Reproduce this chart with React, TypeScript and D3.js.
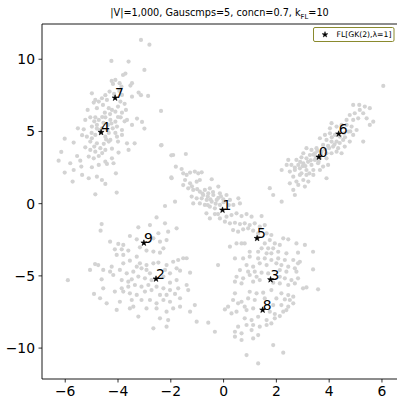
import React from "react";
import * as d3 from "d3";

type P = [number, number];

const clusterTopLeft: P[] = [
[-3.13,11.34],[-2.81,11.01],[-4.25,9.88],[-3.60,9.84],[-3.00,9.26],[-3.72,9.01],[-3.81,8.91],[-4.10,8.57],[-4.24,8.50],[-4.19,8.29],[-3.47,8.34],[-3.53,8.18],[-3.94,8.34],[-3.87,8.11],[-4.99,7.64],[-4.32,7.76],[-4.48,7.51],[-3.22,7.69],[-3.13,7.51],[-2.86,7.46],[-3.85,7.53],[-3.47,7.41],
[-4.86,7.18],[-4.73,7.07],[-4.92,7.00],[-4.61,7.30],[-4.42,7.18],[-3.91,7.07],[-3.75,6.91],[-4.00,6.72],[-3.70,6.49],[-3.85,6.30],
[-5.15,6.49],[-4.80,6.61],[-4.57,6.84],[-4.35,6.61],[-4.23,6.49],[-4.10,6.37],[-2.37,6.42],
[-5.24,5.80],[-5.05,5.98],[-4.86,5.98],[-4.73,5.80],[-4.48,5.98],[-4.29,5.80],[-4.10,5.68],[-3.90,5.98],[-3.66,5.80],[-3.28,5.89],[-3.09,5.66],[-3.47,5.45],
[-5.52,5.22],[-5.30,5.15],[-4.99,5.34],[-4.80,5.45],[-4.61,5.22],[-4.38,5.45],[-4.20,5.22],[-4.04,5.34],[-3.85,5.10],[-3.00,5.20],
[-5.36,4.74],[-5.18,4.64],[-4.99,4.53],[-4.86,4.76],[-4.48,4.64],[-4.29,4.41],[-4.04,4.64],[-3.85,4.76],
[-6.02,4.50],[-5.68,4.23],[-5.05,4.30],[-4.80,4.18],[-4.54,4.14],[-4.35,4.30],[-4.00,4.30],[-3.66,4.18],[-3.37,4.18],[-2.37,4.04],
[-6.15,3.58],[-5.55,3.30],[-5.24,3.90],[-5.05,3.72],[-4.86,3.60],[-4.67,3.84],[-4.48,3.72],[-4.23,3.81],[-3.98,3.54],
[-6.25,2.98],[-5.81,2.80],[-5.43,2.98],[-5.11,3.26],[-4.92,3.14],[-4.73,3.30],[-4.48,2.91],[-4.23,3.14],[-3.60,3.72],
[-6.02,2.15],[-5.68,2.33],[-5.39,2.57],[-4.99,2.52],[-4.73,2.68],[-4.42,2.75],[-4.17,2.80],[-1.98,3.35],[-1.98,1.83],
[-5.72,1.53],[-5.36,1.99],[-5.11,1.76],[-4.80,1.87],[-4.61,1.64],[-4.48,1.37],[-4.08,2.10],[-4.86,0.65],[-4.05,0.77],
[-4.55,5.60],[-4.40,5.10],[-4.70,5.10],[-4.30,6.20],[-4.50,6.30],[-4.90,5.70],[-4.65,4.90],[-4.35,4.90],[-4.00,6.00],[-4.15,7.60],
[-3.95,7.80],[-4.60,6.00],[-4.80,5.20],[-4.25,5.55],[-4.45,4.45],[-4.90,3.95],[-4.60,3.50],[-5.00,4.90],[-4.10,4.90],[-3.75,5.70]
];

const clusterRight: P[] = [
[6.05,8.15],[4.91,6.84],[5.14,6.84],[5.35,6.72],[5.54,6.61],[5.16,6.49],[4.97,6.26],[4.78,6.14],[5.29,6.26],[5.42,5.91],[5.67,5.68],[5.54,5.45],[5.10,5.91],[4.91,5.80],[4.66,5.80],[4.66,5.45],[4.47,5.45],[4.28,5.34],[4.09,5.57],[4.03,5.22],[4.85,5.34],[5.04,5.10],[4.72,4.99],[4.56,4.87],[4.91,4.76],[4.41,4.64],[4.22,4.76],[4.03,4.87],[3.84,4.76],[3.65,4.53],[3.90,4.41],[4.09,4.30],[4.28,4.30],[4.53,4.41],[4.78,4.30],[5.29,4.30],[4.59,3.95],[4.34,3.84],[4.15,3.95],[3.96,4.00],[3.77,4.07],[3.52,3.84],[3.33,3.72],[3.14,3.84],[3.02,3.49],[3.27,3.37],[3.46,3.49],[3.71,3.60],[3.90,3.49],[4.09,3.49],[4.28,3.60],[4.47,3.49],[3.90,3.14],[3.65,3.14],[3.46,3.03],[3.14,3.14],[2.95,3.21],[2.76,3.03],[2.45,3.03],[2.39,2.68],[2.57,2.68],[2.83,2.68],[3.02,2.80],[3.33,2.68],[3.58,2.80],[3.77,2.57],[3.96,2.68],[2.89,2.45],[3.14,2.33],[3.40,2.33],[3.65,2.33],[2.70,2.33],[2.51,2.22],[2.20,2.33],[2.64,1.87],[2.89,1.99],[3.14,1.99],[3.40,1.99],[3.02,1.64],[2.76,1.53],[3.21,1.53],[3.90,1.76],[2.51,1.41],[2.83,1.30],[3.08,1.18],[2.64,0.95],[2.70,0.60],[1.75,1.07],[1.88,0.60],
[3.30,3.00],[3.50,3.20],[3.70,3.40],[3.20,2.90],[3.00,2.60],[3.60,2.90],[3.85,3.75],[4.00,3.85],[4.20,4.10],[4.40,4.20],[4.10,4.60],[3.40,3.40],[2.90,2.90],[3.10,2.60],[2.70,2.50],[4.60,4.60],[4.80,5.00],[3.25,2.10],[2.95,2.10],[3.55,3.65]
];

const clusterCenter: P[] = [
[-2.35,4.06],[-1.91,3.37],[-1.43,3.44],[-1.81,2.56],[-1.59,2.40],[-1.97,1.76],[-1.53,2.10],[-1.40,1.99],[-1.27,2.15],[-1.09,2.22],[-0.96,2.10],[-0.83,2.17],[-1.46,1.64],[-1.27,1.41],[-1.02,1.52],[-0.90,1.64],[-0.45,1.69],[-1.53,1.29],[-1.34,1.06],[-1.15,0.95],[-0.90,0.83],[-0.71,0.95],[-0.52,1.06],[-0.20,1.18],[-0.77,0.60],[-0.58,0.72],[-0.39,0.60],[-0.14,0.72],[0.11,0.60],[-1.21,0.49],[-1.02,0.37],[-0.83,0.37],[-0.64,0.26],[-0.45,0.14],[-0.26,0.26],[-0.01,0.30],[0.24,0.26],[0.56,0.37],[-1.84,0.14],[-1.15,0.02],[-0.90,0.02],[-0.71,-0.09],[-0.52,-0.21],[-0.33,-0.32],[-0.14,-0.09],[0.37,-0.09],[0.62,0.02],[-2.22,-0.16],[-2.54,-0.95],[2.20,0.14],
[-0.60,0.50],[-0.30,0.00],[-0.20,0.40],[-0.80,0.70],[-1.00,1.00],[-0.40,0.80],[0.00,0.10],[-0.60,-0.10],[0.20,-0.10],[-1.20,1.20],[-0.10,0.50],[-0.50,0.30]
];

const clusterBottomLeft: P[] = [
[-4.62,-1.41],[-4.66,-1.87],[-3.23,-1.64],[-2.79,-1.48],[-2.22,-1.36],[-2.47,-2.05],[-2.10,-1.94],[-1.78,-1.71],[-3.55,-2.24],[-3.29,-2.47],[-2.66,-2.40],[-2.41,-2.63],[-2.16,-2.52],[-4.30,-2.63],[-3.99,-2.79],[-3.80,-2.86],[-4.12,-3.16],[-3.86,-3.16],[-3.61,-3.25],[-3.17,-3.02],[-2.92,-3.25],[-2.66,-3.32],[-2.41,-3.39],[-2.28,-3.09],[-4.05,-3.55],[-3.80,-3.55],[-3.29,-3.67],[-4.87,-4.18],[-4.75,-4.25],[-4.24,-4.36],[-3.80,-4.13],[-3.55,-3.95],[-3.17,-4.13],[-2.92,-4.25],[-2.66,-4.13],[-2.47,-4.08],[-2.16,-4.25],[-1.91,-4.02],[-1.72,-3.90],[-1.53,-3.78],[-1.40,-3.78],[-5.06,-4.59],[-4.56,-4.59],[-4.30,-4.71],[-3.93,-4.59],[-3.67,-4.82],[-3.42,-4.71],[-3.29,-4.36],[-3.11,-4.48],[-2.92,-4.59],[-2.79,-4.82],[-2.22,-4.59],[-2.03,-4.82],[-1.78,-4.48],[-1.65,-4.64],[-1.27,-4.78],[-4.62,-5.24],[-4.18,-4.94],[-3.86,-5.29],[-3.61,-5.40],[-3.48,-5.24],[-3.23,-5.05],[-2.98,-5.17],[-2.73,-5.29],[-2.28,-5.05],[-2.03,-5.47],[-1.78,-5.29],[-1.40,-5.63],[-4.91,-6.25],[-4.56,-5.86],[-3.86,-5.86],[-3.61,-5.75],[-3.36,-5.63],[-3.11,-5.75],[-2.85,-5.63],[-2.54,-5.75],[-2.28,-5.86],[-2.03,-5.98],[-1.72,-5.86],[-1.34,-5.98],[-4.68,-6.55],[-4.12,-6.09],[-3.80,-6.09],[-3.55,-6.21],[-3.29,-6.32],[-2.98,-6.09],[-2.73,-5.98],[-2.41,-6.32],[-2.16,-6.32],[-1.84,-6.25],[-1.65,-6.55],[-4.43,-6.90],[-3.93,-6.79],[-3.48,-6.67],[-3.11,-6.67],[-2.79,-6.67],[-2.54,-6.90],[-2.28,-6.67],[-2.03,-6.79],[-1.65,-7.13],[-1.09,-7.02],[-4.05,-7.36],[-3.55,-7.25],[-3.42,-7.13],[-2.92,-7.25],[-2.54,-7.25],[-2.16,-7.48],[-1.91,-7.25],[-2.41,-7.94],[-2.10,-8.06],[-3.23,-7.82],[-1.27,-7.48],[-1.02,-8.17],[-2.16,-8.52],[-2.66,-8.63],[-5.90,-5.30]
];

const clusterBottomRight: P[] = [
[-0.65,-0.67],[-0.33,-0.72],[-0.14,-1.02],[0.11,-0.90],[0.30,-0.79],[0.49,-0.67],[0.68,-0.86],[0.87,-0.72],[1.06,-0.90],[1.44,-0.86],[0.05,-1.25],[0.24,-1.36],[0.43,-1.32],[0.62,-1.41],[0.80,-1.36],[0.99,-1.48],[1.18,-1.36],[1.37,-1.59],[1.56,-1.48],[0.36,-1.83],[0.55,-1.94],[0.74,-1.78],[0.93,-1.71],[1.12,-1.87],[1.31,-2.06],[1.63,-2.06],[1.81,-2.17],[2.26,-2.40],[2.45,-2.47],[-0.21,-0.72],[-0.52,-1.02],
[1.75,-2.52],[1.94,-2.75],[1.56,-2.75],[1.44,-3.09],[1.69,-3.09],[1.88,-3.09],[2.13,-2.86],[2.76,-2.75],[3.08,-2.86],[3.39,-3.33],[0.49,-2.75],[0.68,-2.75],[0.80,-2.75],[0.99,-3.33],[1.31,-3.33],[0.24,-2.98],[1.63,-3.44],[1.81,-3.44],[2.07,-3.33],[2.38,-3.44],[2.82,-3.39],[0.99,-3.67],[0.74,-3.79],[1.31,-3.79],[1.56,-3.79],[1.81,-3.90],[2.07,-3.79],[2.32,-3.90],[2.64,-3.90],[2.89,-4.02],[2.82,-4.13],[0.43,-3.79],[-0.21,-4.25],[0.87,-4.25],[1.12,-4.36],[1.37,-4.13],[1.63,-4.25],[2.00,-4.13],[2.19,-4.25],[2.45,-4.36],[2.70,-4.48],[0.62,-4.60],[0.93,-4.71],[1.18,-4.71],[1.44,-4.78],[1.69,-4.83],[2.13,-4.60],[2.38,-4.71],[2.76,-4.71],[3.39,-4.55],[0.49,-5.06],[0.74,-5.17],[0.99,-4.94],[1.25,-5.06],[2.13,-5.06],[2.32,-5.17],[2.57,-5.29],[2.82,-5.17],[0.43,-5.40],[0.68,-5.52],[1.12,-5.40],[1.37,-5.29],[1.88,-5.47],[2.13,-5.52],[2.45,-5.63],[2.70,-5.52],[3.01,-5.86],[3.14,-5.80],[3.58,-5.93],[0.43,-6.21],[0.99,-6.10],[1.25,-6.21],[1.50,-6.16],[1.81,-5.98],[2.19,-6.21],[2.45,-6.33],[2.64,-6.44],[0.36,-6.67],[0.68,-6.79],[0.93,-6.56],[1.18,-6.67],[1.56,-6.56],[2.00,-6.56],[2.32,-6.63],[2.51,-6.67],[0.17,-7.13],[0.55,-6.90],[0.80,-7.13],[1.12,-7.25],[1.88,-7.02],[2.19,-7.02],[2.45,-7.13],[2.64,-6.90],[0.05,-7.32],[0.30,-7.60],[0.49,-7.48],[0.87,-7.37],[1.75,-7.48],[1.94,-7.64],[2.26,-7.48],[2.38,-7.37],[-0.58,-8.24],[0.80,-7.94],[1.06,-8.06],[1.31,-7.83],[1.63,-8.06],[1.94,-7.94],[2.13,-7.78],[0.55,-8.52],[0.87,-8.40],[1.12,-8.40],[1.37,-8.52],[1.63,-8.40],[1.81,-8.29],[-0.33,-8.87],[0.43,-8.87],[0.68,-8.98],[1.06,-8.75],[1.31,-9.10],[0.43,-9.21],[0.68,-9.44],[1.12,-9.33],[1.88,-9.79],[2.26,-10.32],[0.87,-10.48],[1.31,-11.06]
];

const centerLabels = ["0", "1", "2", "3", "4", "5", "6", "7", "8", "9"];
const centerX = [3.61, -0.04, -2.56, 1.78, -4.64, 1.27, 4.36, -4.11, 1.48, -3.02];
const centerY = [3.23, -0.44, -5.21, -5.26, 4.94, -2.40, 4.83, 7.32, -7.36, -2.72];

const xTicks = [-6, -4, -2, 0, 2, 4, 6];
const yTicks = [-10, -5, 0, 5, 10];
const xDomain: P = [-6.88, 6.57];
const yDomain: P = [-12.14, 12.44];

const legendLabel = "FL[GK(2),λ=1]";

const W = 397, H = 400;
const M = { left: 42, right: 397, top: 24, bottom: 379 };
const FONT = "DejaVu Sans, sans-serif";

const fmt = (v: number) => (v < 0 ? "\u2212" + Math.abs(v) : String(v));

export default function App() {
  const x = d3.scaleLinear().domain(xDomain).range([M.left, M.right]);
  const y = d3.scaleLinear().domain(yDomain).range([M.bottom, M.top]);
  const allPts = [
    ...clusterTopLeft,
    ...clusterRight,
    ...clusterCenter,
    ...clusterBottomLeft,
    ...clusterBottomRight,
  ];
  const star = d3.symbol().type(d3.symbolStar).size(11)() as string;

  return (
    <svg
      width={W}
      height={H}
      style={{ position: "absolute", left: 0, top: 0, background: "#fff" }}
      fontFamily={FONT}
    >
      <rect x={0} y={0} width={W} height={H} fill="#fff" />
      <text x={219.5} y={16.3} fontSize={9.7} textAnchor="middle" fill="#000">
        |V|=1,000, Gauscmps=5, concn=0.7, k
        <tspan fontSize={6.8} dy={2.2}>FL</tspan>
        <tspan dy={-2.2}>=10</tspan>
      </text>
      <g>
        {allPts.map((p, i) => (
          <circle key={i} cx={x(p[0])} cy={y(p[1])} r={2.1} fill="#d3d3d3" />
        ))}
      </g>
      <g>
        {centerLabels.map((lab, i) => (
          <g key={lab}>
            <path d={star} transform={`translate(${x(centerX[i])},${y(centerY[i])})`} fill="#000" stroke="#000" strokeWidth={0.6} />
            <text x={x(centerX[i])} y={y(centerY[i])} fontSize={13.9} fill="#000">
              {lab}
            </text>
          </g>
        ))}
      </g>
      {/* spines */}
      <line x1={M.left} x2={M.left} y1={M.top} y2={M.bottom} stroke="#000" strokeWidth={0.9} />
      <line x1={M.left} x2={W} y1={M.bottom} y2={M.bottom} stroke="#000" strokeWidth={0.9} />
      <line x1={M.left} x2={W} y1={M.top} y2={M.top} stroke="#000" strokeWidth={0.9} />
      {/* x ticks */}
      {xTicks.map((t) => (
        <g key={"x" + t}>
          <line x1={x(t)} x2={x(t)} y1={M.bottom} y2={M.bottom + 3.5} stroke="#000" strokeWidth={0.8} />
          <text x={x(t)} y={M.bottom + 16.5} fontSize={13.9} textAnchor="middle" fill="#000">
            {fmt(t)}
          </text>
        </g>
      ))}
      {yTicks.map((t) => (
        <g key={"y" + t}>
          <line x1={M.left - 3.5} x2={M.left} y1={y(t)} y2={y(t)} stroke="#000" strokeWidth={0.8} />
          <text x={M.left - 7} y={y(t) + 5} fontSize={13.9} textAnchor="end" fill="#000">
            {fmt(t)}
          </text>
        </g>
      ))}
      {/* legend */}
      <rect x={313.5} y={27.5} width={80.5} height={14} rx={1.5} fill="#fff" stroke="#8a8a2e" strokeWidth={1} />
      <path d={d3.symbol().type(d3.symbolStar).size(10)() as string} transform="translate(325,34.6)" fill="#000" stroke="#000" strokeWidth={0.5} />
      <text x={336.5} y={37.3} fontSize={7.7} fill="#000">
        {legendLabel}
      </text>
    </svg>
  );
}
